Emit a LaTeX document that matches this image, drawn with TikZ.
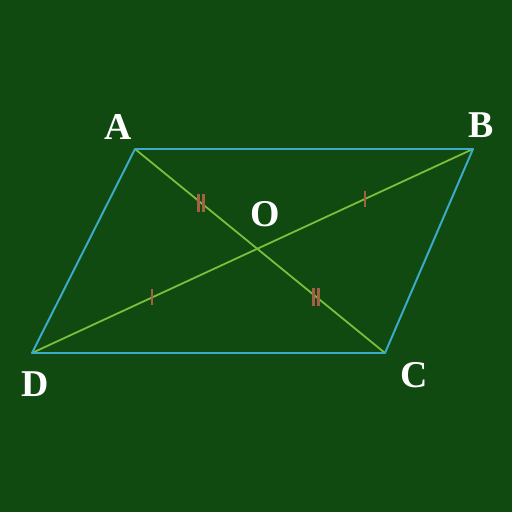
\documentclass[tikz,border=0pt]{standalone}
\usepackage{fontspec}
\setmainfont{Liberation Serif}
\usetikzlibrary{calc}
\definecolor{board}{RGB}{16,74,16}
\definecolor{edgecol}{RGB}{60,170,200}
\definecolor{diagcol}{RGB}{125,190,60}
\definecolor{tickcol}{RGB}{165,95,70}
\begin{document}
\begin{tikzpicture}[x=0.0195cm, y=-0.0195cm]
    % Styles
    \tikzstyle{side} = [draw=edgecol, line width=1.1pt]
    \tikzstyle{diagonal} = [draw=diagcol, line width=1pt]
    \tikzstyle{tick} = [draw=tickcol, line width=1.4pt]
    \tikzstyle{vlabel} = [text=white, font=\fontsize{21}{24}\selectfont\bfseries, inner sep=0pt]

    % === Background ===
    \fill [board] (0,0) rectangle (512,512);
    \useasboundingbox (0,0) rectangle (512,512);

    % === Vertices ===
    \coordinate (A) at (135,149);
    \coordinate (B) at (473,149);
    \coordinate (C) at (385,353);
    \coordinate (D) at (32,353);
    \coordinate (O) at (257.3,248.8);

    % === Diagonals ===
    \draw [diagonal] (A) -- (C);
    \draw [diagonal] (B) -- (D);

    % === Sides ===
    \draw [side, line join=round] (A) -- (B) -- (C) -- (D) -- cycle;

    % === Tick marks ===
    \coordinate (mAO) at ($(A)!0.54!(O)$);
    \coordinate (mOC) at ($(O)!0.46!(C)$);
    \coordinate (mBO) at ($(B)!0.5!(O)$);
    \coordinate (mOD) at ($(O)!0.467!(D)$);
    \foreach \m in {mAO, mOC} {
        \draw [tick] ($(\m)+(-2.5,-9)$) -- ++(0,18);
        \draw [tick] ($(\m)+(2.5,-9)$) -- ++(0,18);
    }
    \foreach \m in {mBO, mOD} {
        \draw [tick] ($(\m)+(0,-8)$) -- ++(0,16);
    }

    % === Labels ===
    \node [vlabel] (labA) at (118,127) {A};
    \node [vlabel] (labB) at (481,125) {B};
    \node [vlabel] (labC) at (414,375) {C};
    \node [vlabel] (labD) at (35,384) {D};
    \node [vlabel] (labO) at (265,214) {O};
\end{tikzpicture}
\end{document}
